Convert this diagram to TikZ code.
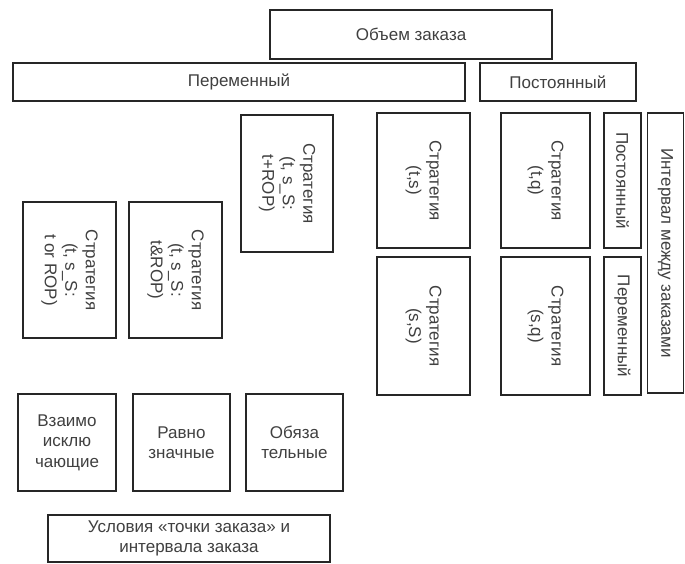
\documentclass[tikz,border=0pt]{standalone}
\usepackage{fontspec}
\setmainfont{Liberation Sans}
\usetikzlibrary{positioning}

\begin{document}
\begin{tikzpicture}[x=1pt, y=-1pt,
  box/.style={rectangle, draw=black!85, line width=1.8pt, text=black!75, align=center,
    inner sep=0pt, font=\fontsize{17}{20.5}\selectfont},
  vbox/.style={box, rotate=-90}]
\useasboundingbox[fill=white] (0,0) rectangle (685,563);

% Nodes: top rows
\node[box, minimum width=282pt, minimum height=49pt] (volume) at (411,34.5) {Объем заказа};
\node[box, minimum width=452pt, minimum height=38pt] (variable) at (239,82) {Переменный};
\node[box, minimum width=156pt, minimum height=38pt, right=13pt of variable] (constant) {Постоянный};

% Nodes: strategies (vertical text)
\node[vbox, minimum width=136pt, minimum height=93pt] (stratOr) at (69.5,270) {Стратегия\\(t, s\_S:\\t or ROP)};
\node[vbox, minimum width=136pt, minimum height=93pt] (stratAnd) at (175.5,270) {Стратегия\\(t, s\_S:\\t\&ROP)};
\node[vbox, minimum width=137pt, minimum height=92pt] (stratPlus) at (287,183.5) {Стратегия\\(t, s\_S:\\t+ROP)};
\node[vbox, minimum width=135pt, minimum height=93pt] (stratTS) at (423.5,180.5) {Стратегия\\(t,s)};
\node[vbox, minimum width=138pt, minimum height=93pt] (stratSS) at (423.5,326) {Стратегия\\(s,S)};
\node[vbox, minimum width=135pt, minimum height=89pt] (stratTQ) at (545.5,180.5) {Стратегия\\(t,q)};
\node[vbox, minimum width=138pt, minimum height=89pt] (stratSQ) at (545.5,326) {Стратегия\\(s,q)};

% Nodes: interval
\node[vbox, minimum width=135pt, minimum height=37pt] (ivConst) at (622.5,180.5) {Постоянный};
\node[vbox, minimum width=138pt, minimum height=37pt] (ivVar) at (622.5,326) {Переменный};
\node[vbox, minimum width=280pt, minimum height=36pt] (interval) at (665.5,253) {Интервал между заказами};

% Nodes: conditions
\node[box, minimum width=98pt, minimum height=97pt] (exclusive) at (67,442.5) {Взаимо\\исклю\\чающие};
\node[box, minimum width=97pt, minimum height=97pt] (equal) at (181.5,442.5) {Равно\\значные};
\node[box, minimum width=97pt, minimum height=97pt] (mandatory) at (294.5,442.5) {Обяза\\тельные};
\node[box, minimum width=282pt, minimum height=47pt] (conditions) at (189,538.5) {Условия «точки заказа» и\\интервала заказа};
\end{tikzpicture}
\end{document}
